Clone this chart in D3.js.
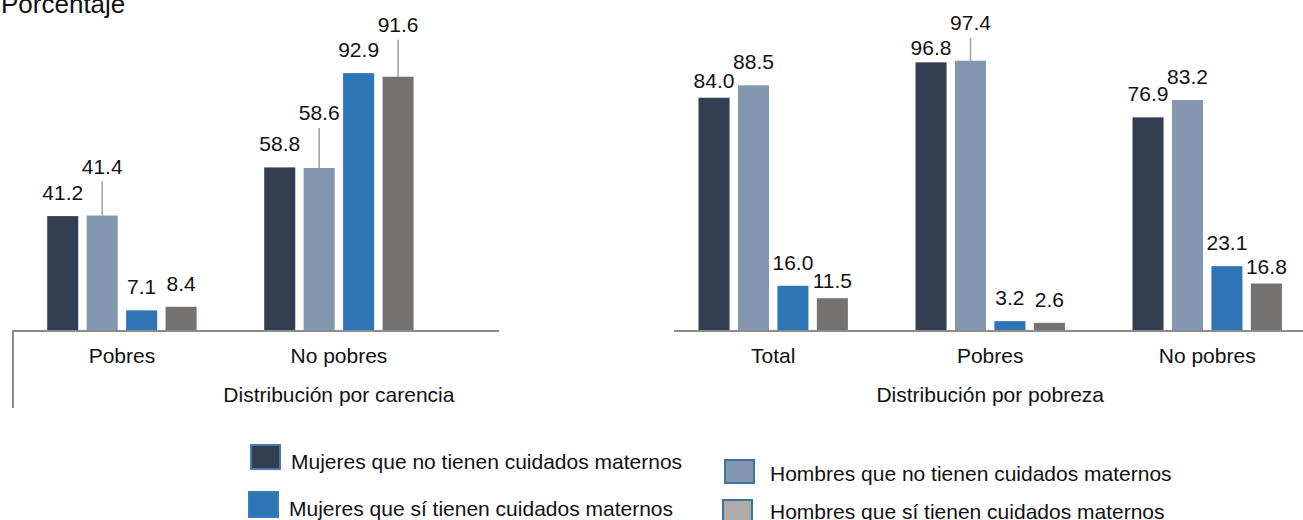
<!DOCTYPE html>
<html>
<head>
<meta charset="utf-8">
<script src="https://cdn.jsdelivr.net/npm/d3@7"></script>
<style>
  html, body { margin: 0; padding: 0; background: #ffffff; }
  svg { display: block; font-family: "Liberation Sans", Arial, sans-serif; }
</style>
</head>
<body>
<svg id="chart" width="1303" height="520"></svg>
<script>
// ---------------- DATA ----------------
const seriesNames = [
  "Mujeres que no tienen cuidados maternos",
  "Hombres que no tienen cuidados maternos",
  "Mujeres que sí tienen cuidados maternos",
  "Hombres que sí tienen cuidados maternos"
];
const carenciaCategories = ["Pobres", "No pobres"];
const carenciaMujeresNo = [41.2, 58.8];
const carenciaHombresNo = [41.4, 58.6];
const carenciaMujeresSi = [7.1, 92.9];
const carenciaHombresSi = [8.4, 91.6];

const pobrezaCategories = ["Total", "Pobres", "No pobres"];
const pobrezaMujeresNo = [84.0, 96.8, 76.9];
const pobrezaHombresNo = [88.5, 97.4, 83.2];
const pobrezaMujeresSi = [16.0, 3.2, 23.1];
const pobrezaHombresSi = [11.5, 2.6, 16.8];

const yAxisTitle = "Porcentaje";
const carenciaTitle = "Distribución por carencia";
const pobrezaTitle = "Distribución por pobreza";

// ---------------- STYLE / LAYOUT ----------------
const barColors = ["#333f50", "#8497b0", "#2e75b6", "#767171"];
const legendFill = ["#333f50", "#8497b0", "#2e75b6", "#aeaaaa"];
const legendStroke = ["#4a78a8", "#41719c", "#3a7bbd", "#41719c"];
const axisColor = "#8c8c8c";
const leaderColor = "#a6a6a6";
const FONT = 21;

const baseY = 330;
const y = d3.scaleLinear().domain([0, 100]).range([baseY, baseY - 276.5]);

// label gaps (baseline distance above bar top); leader = draw connector line
const defaultGap = 16;
const labelTweaks = {
  "carencia|Pobres|1": { gap: 42, leader: true },
  "carencia|No pobres|1": { gap: 48, leader: true },
  "carencia|No pobres|3": { gap: 45, leader: true },
  "pobreza|Total|0": { gap: 10 },
  "pobreza|Total|3": { gap: 10 },
  "pobreza|Pobres|0": { gap: 7 },
  "pobreza|Pobres|1": { gap: 31, leader: true },
  "pobreza|No pobres|3": { gap: 10 }
};

const svg = d3.select("#chart");

function panel(key, cats, seriesVals, bandRange, axisExtent, title, titleCat) {
  const rows = cats.map((c, i) => ({ cat: c, vals: seriesVals.map(s => s[i]) }));
  const x0 = d3.scaleBand().domain(cats).range(bandRange).padding(0);
  const groupW = 149.4;
  const x1 = d3.scaleBand().domain(d3.range(seriesVals.length)).range([0, groupW]).paddingInner(0.213).paddingOuter(0);
  const gOff = (x0.bandwidth() - groupW) / 2;

  const g = svg.append("g");
  const groups = g.selectAll("g.grp").data(rows).join("g")
    .attr("transform", d => `translate(${x0(d.cat) + gOff},0)`);

  groups.selectAll("rect").data(d => d.vals.map((v, j) => ({ v, j, cat: d.cat }))).join("rect")
    .attr("x", d => x1(d.j))
    .attr("width", x1.bandwidth())
    .attr("y", d => y(d.v))
    .attr("height", d => baseY - y(d.v))
    .attr("fill", d => barColors[d.j]);

  groups.each(function(d) {
    const gg = d3.select(this);
    d.vals.forEach((v, j) => {
      const t = labelTweaks[`${key}|${d.cat}|${j}`] || {};
      const gap = t.gap !== undefined ? t.gap : defaultGap;
      const cx = x1(j) + x1.bandwidth() / 2;
      const top = y(v);
      const base = top - gap;
      if (t.leader) {
        gg.append("line")
          .attr("x1", cx).attr("x2", cx)
          .attr("y1", base + 8).attr("y2", top)
          .attr("stroke", leaderColor).attr("stroke-width", 1.6);
      }
      gg.append("text")
        .attr("x", cx).attr("y", base)
        .attr("text-anchor", "middle")
        .attr("font-size", FONT)
        .attr("fill", "#111")
        .text(v.toFixed(1));
    });
  });

  // axis (category labels)
  const axis = d3.axisBottom(x0).tickSize(0).tickPadding(0);
  const ag = svg.append("g").attr("transform", `translate(0,${baseY})`).call(axis);
  ag.select(".domain").remove();
  ag.selectAll("text")
    .attr("y", 33).attr("dy", 0)
    .attr("font-size", FONT)
    .attr("font-family", "Liberation Sans, Arial, sans-serif")
    .attr("fill", "#111");

  svg.append("line")
    .attr("x1", axisExtent[0]).attr("x2", axisExtent[1])
    .attr("y1", baseY + 1).attr("y2", baseY + 1)
    .attr("stroke", axisColor).attr("stroke-width", 2);

  svg.append("text")
    .attr("x", x0(titleCat) + x0.bandwidth() / 2)
    .attr("y", 402)
    .attr("text-anchor", "middle")
    .attr("font-size", FONT)
    .attr("fill", "#111")
    .text(title);
}

panel("carencia", carenciaCategories,
  [carenciaMujeresNo, carenciaHombresNo, carenciaMujeresSi, carenciaHombresSi],
  [13.4, 447.4], [13, 499], carenciaTitle, "No pobres");

panel("pobreza", pobrezaCategories,
  [pobrezaMujeresNo, pobrezaHombresNo, pobrezaMujeresSi, pobrezaHombresSi],
  [664.7, 1315.7], [674, 1303], pobrezaTitle, "Pobres");

// left vertical line below the axis
svg.append("line")
  .attr("x1", 13).attr("x2", 13)
  .attr("y1", baseY).attr("y2", 408)
  .attr("stroke", axisColor).attr("stroke-width", 2);

// y-axis title
svg.append("text")
  .attr("x", 1).attr("y", 13)
  .attr("font-size", 26)
  .attr("fill", "#111")
  .text(yAxisTitle);

// legend (order of series: 0 mujeres no, 1 hombres no, 2 mujeres si, 3 hombres si)
const legendLayout = [
  { sx: 251, sy: 445, sw: 29, sh: 24, tx: 291, ty: 469 },
  { sx: 725, sy: 460, sw: 29, sh: 23, tx: 770, ty: 481 },
  { sx: 249, sy: 492, sw: 29, sh: 25, tx: 289, ty: 516 },
  { sx: 723, sy: 500, sw: 29, sh: 24, tx: 770, ty: 519 }
];
const lg = svg.append("g");
seriesNames.forEach((name, i) => {
  const L = legendLayout[i];
  lg.append("rect")
    .attr("x", L.sx).attr("y", L.sy).attr("width", L.sw).attr("height", L.sh)
    .attr("fill", legendFill[i])
    .attr("stroke", legendStroke[i]).attr("stroke-width", 2);
  lg.append("text")
    .attr("x", L.tx).attr("y", L.ty)
    .attr("font-size", FONT)
    .attr("fill", "#111")
    .text(name);
});
</script>
</body>
</html>
